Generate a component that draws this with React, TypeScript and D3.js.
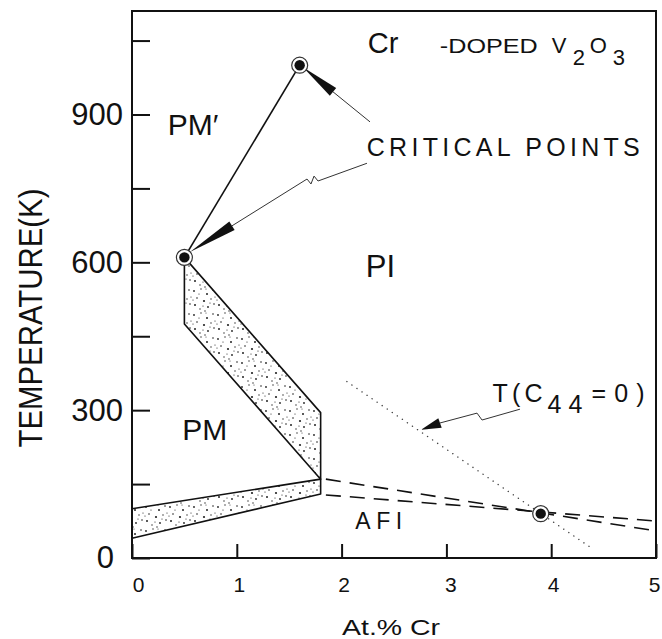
import React from "react";
import * as d3 from "d3";

const W = 662;
const H = 639;

// phase diagram, At.% Cr vs temperature (K)
const criticalPoints = [[1.6, 1000], [0.5, 610], [3.9, 90]];
const pmLine = [[0.5, 610], [1.6, 1000]];
const mitBand = [[0.5, 610], [0.5, 475], [1.8, 160], [1.8, 295]];
const afiBand = [[0, 100], [1.8, 160], [1.8, 130], [0, 40]];
const afiUpper = [[1.85, 160], [5, 55]];
const afiLower = [[1.85, 128], [5, 75]];
const c44Line = [[2.05, 358], [4.4, 18]];
const xTicks = [0, 1, 2, 3, 4, 5];
const yTicks = [0, 150, 300, 450, 600, 750, 900, 1050];
const yLabels = [0, 300, 600, 900];

// annotation arrows (data units)
const arrowTop = { tip: [1.632, 996], base: [1.918, 946], tail: [[2.271, 885]] };
const arrowMid = {
  tip: [0.553, 621],
  base: [0.954, 674],
  tail: [[1.67, 769], [1.708, 759], [1.737, 775], [1.775, 765], [2.242, 801]],
};
const arrowC44 = {
  tip: [2.758, 260],
  base: [2.939, 274],
  tail: [[3.292, 294], [3.34, 280], [3.702, 302]],
};

const FONT = "'Liberation Sans', Arial, Helvetica, sans-serif";

// fixed speckle for the stippled bands
const speckle = [
  [2, 3, 0.9], [9, 1, 0.7], [15, 6, 1.0], [21, 2, 0.8], [5, 10, 0.8], [12, 13, 1.1],
  [19, 11, 0.7], [3, 17, 1.0], [8, 21, 0.7], [16, 19, 0.9], [22, 16, 0.8], [13, 23, 0.7],
  [7, 6, 0.6], [18, 15, 0.6], [1, 12, 0.6], [11, 18, 0.6], [23, 9, 0.6], [14, 1, 0.5],
];

const wedge = (tip, base, hw) => {
  const dx = base[0] - tip[0];
  const dy = base[1] - tip[1];
  const len = Math.hypot(dx, dy);
  const nx = -dy / len;
  const ny = dx / len;
  return [tip, [base[0] + nx * hw, base[1] + ny * hw], [base[0] - nx * hw, base[1] - ny * hw]];
};

const App = () => {
  const ref = React.useRef(null);

  React.useEffect(() => {
    const svg = d3.select(ref.current);
    svg.selectAll("*").remove();

    const x = d3.scaleLinear([0, 5], [132, 656]);
    const y = d3.scaleLinear([0, 1110], [558, 11]);
    const pt = (d) => [x(d[0]), y(d[1])];

    const defs = svg.append("defs");
    const pat = defs.append("pattern")
      .attr("id", "stipple").attr("patternUnits", "userSpaceOnUse")
      .attr("width", 24).attr("height", 24);
    pat.append("rect").attr("width", 24).attr("height", 24).attr("fill", "#fff");
    pat.selectAll("circle").data(speckle).enter().append("circle")
      .attr("cx", d => d[0]).attr("cy", d => d[1]).attr("r", d => d[2]).attr("fill", "#222");

    const line = d3.line().x(d => x(d[0])).y(d => y(d[1]));

    // bands
    svg.selectAll(".band").data([mitBand, afiBand]).enter().append("path")
      .attr("d", d => line(d) + "Z")
      .attr("fill", "url(#stipple)").attr("stroke", "#111").attr("stroke-width", 1.6)
      .attr("stroke-linejoin", "round");

    svg.append("path").attr("d", line(pmLine))
      .attr("fill", "none").attr("stroke", "#111").attr("stroke-width", 1.6);

    svg.selectAll(".dash").data([afiUpper, afiLower]).enter().append("path")
      .attr("d", line).attr("fill", "none").attr("stroke", "#111")
      .attr("stroke-width", 1.6).attr("stroke-dasharray", "15 9");

    svg.append("path").attr("d", line(c44Line))
      .attr("fill", "none").attr("stroke", "#444").attr("stroke-width", 1.4)
      .attr("stroke-linecap", "round").attr("stroke-dasharray", "0.1 6");

    // arrows
    for (const a of [arrowTop, arrowMid, arrowC44]) {
      svg.append("path").attr("d", d3.line()([pt(a.base), ...a.tail.map(pt)]))
        .attr("fill", "none").attr("stroke", "#333").attr("stroke-width", 1);
      svg.append("path").attr("d", d3.line()(wedge(pt(a.tip), pt(a.base), 5)) + "Z")
        .attr("fill", "#111");
    }

    // critical points
    const cp = svg.selectAll(".cp").data(criticalPoints).enter().append("g");
    cp.append("circle").attr("cx", d => x(d[0])).attr("cy", d => y(d[1])).attr("r", 8)
      .attr("fill", "#fff").attr("stroke", "#333").attr("stroke-width", 1.2);
    cp.append("circle").attr("cx", d => x(d[0])).attr("cy", d => y(d[1])).attr("r", 5.2)
      .attr("fill", "#111");

    // axes
    const xAxis = d3.axisBottom(x).tickValues(xTicks).tickFormat(d3.format("d"))
      .tickSizeInner(-14).tickSizeOuter(0).tickPadding(19);
    const gx = svg.append("g").attr("transform", `translate(0,${y(0)})`).call(xAxis);
    gx.select(".domain").remove();
    gx.selectAll("line").attr("stroke", "#111").attr("stroke-width", 2);
    gx.selectAll("text").attr("font-family", FONT).attr("font-size", 21).attr("fill", "#111")
      .attr("dx", d => (d === 0 ? 6 : d === 5 ? -2 : d === 3 ? 4 : 2));

    const yAxis = d3.axisLeft(y).tickValues(yTicks).tickSizeInner(-18).tickSizeOuter(0).tickPadding(9)
      .tickFormat(d => (yLabels.includes(d) ? String(d) : ""));
    const gy = svg.append("g").attr("transform", `translate(${x(0)},0)`).call(yAxis);
    gy.select(".domain").remove();
    gy.selectAll("line").attr("stroke", "#111").attr("stroke-width", 2);
    gy.selectAll("text").attr("font-family", FONT).attr("font-size", 31).attr("fill", "#111")
      .attr("dx", d => (d === 0 ? -9 : 0));

    // frame
    svg.append("rect").attr("x", x(0)).attr("y", y(1110)).attr("width", x(5) - x(0))
      .attr("height", y(0) - y(1110)).attr("fill", "none").attr("stroke", "#111").attr("stroke-width", 2);

    // axis titles
    svg.append("text").attr("x", 342).attr("y", 635)
      .attr("font-family", FONT).attr("font-size", 22).attr("fill", "#111")
      .attr("textLength", 98).attr("lengthAdjust", "spacingAndGlyphs").text("At.% Cr");
    svg.append("text").attr("transform", "translate(42,318) rotate(-90)").attr("text-anchor", "middle")
      .attr("font-family", FONT).attr("font-size", 33).attr("fill", "#111")
      .attr("textLength", 259).attr("lengthAdjust", "spacingAndGlyphs").text("TEMPERATURE(K)");

    const label = (xv, yv, txt, size, len) => {
      const t = svg.append("text").attr("x", x(xv)).attr("y", y(yv))
        .attr("font-family", FONT).attr("font-size", size).attr("fill", "#111").text(txt);
      if (len) t.attr("textLength", len).attr("lengthAdjust", "spacing");
      return t;
    };
    label(0.34, 858, "PM\u2032", 30);
    label(2.23, 570, "PI", 31);
    label(0.48, 239, "PM", 30);
    label(2.13, 59, "AFI", 23, 47);
    label(2.24, 816, "CRITICAL POINTS", 25, 273);

    // title: Cr -DOPED V2O3
    const tx = x(2.25);
    const ty = y(1025);
    const title = svg.append("text").attr("font-family", FONT).attr("fill", "#111");
    title.append("tspan").attr("x", tx).attr("y", ty).attr("font-size", 29).text("Cr");
    title.append("tspan").attr("x", tx + 72).attr("y", ty).attr("font-size", 21)
      .attr("textLength", 98).attr("lengthAdjust", "spacingAndGlyphs").text("-DOPED");
    title.append("tspan").attr("x", tx + 184).attr("y", ty).attr("font-size", 22).text("V");
    title.append("tspan").attr("x", tx + 205).attr("y", ty + 12).attr("font-size", 22).text("2");
    title.append("tspan").attr("x", tx + 222).attr("y", ty).attr("font-size", 22).text("O");
    title.append("tspan").attr("x", tx + 245).attr("y", ty + 12).attr("font-size", 22).text("3");

    // T(C44=0)
    const cx0 = x(3.44);
    const cy0 = y(317);
    const c44 = svg.append("text").attr("font-family", FONT).attr("fill", "#111").attr("font-size", 25);
    c44.append("tspan").attr("x", cx0).attr("y", cy0).attr("textLength", 50).attr("lengthAdjust", "spacing").text("T(C");
    c44.append("tspan").attr("x", cx0 + 55).attr("y", cy0 + 11).attr("textLength", 35).attr("lengthAdjust", "spacing").text("44");
    c44.append("tspan").attr("x", cx0 + 99).attr("y", cy0).attr("textLength", 53).attr("lengthAdjust", "spacing").text("=0)");
  }, []);

  return (
    <svg ref={ref} width={W} height={H}
      style={{ position: "absolute", left: 0, top: 0, background: "#fff", display: "block" }} />
  );
};

export default App;
